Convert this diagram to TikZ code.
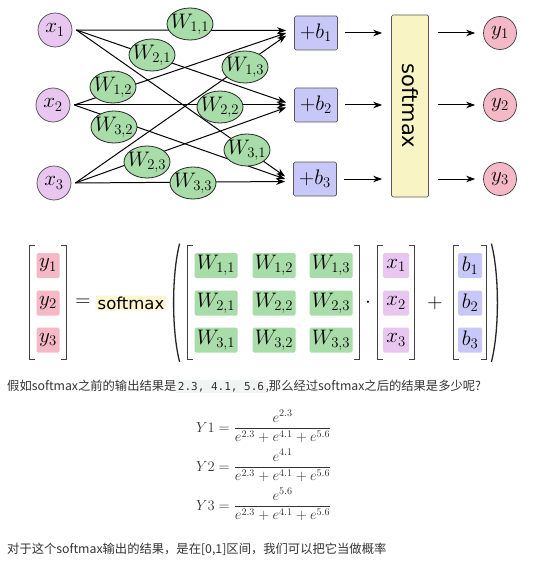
\documentclass[tikz,border=0pt]{standalone}
\usepackage{fix-cm}
\usepackage{amsmath}
\usepackage{fontspec}
\newfontfamily\cjk{Noto Sans CJK SC}
\newfontfamily\dejavu{DejaVu Sans}
\setmonofont{DejaVu Sans Mono}
\usepackage{tikz}
\usetikzlibrary{arrows.meta,calc,fit,shapes.geometric,positioning}
\definecolor{xin}{HTML}{E8C6F0}
\definecolor{win}{HTML}{A8DCA8}
\definecolor{bin}{HTML}{C8C8F8}
\definecolor{smin}{HTML}{F8F4C4}
\definecolor{yin}{HTML}{F4B8C6}
\definecolor{smhl}{HTML}{FFF6CF}
\definecolor{codebg}{HTML}{F2F3F3}
\definecolor{txt}{HTML}{333333}
\newcommand{\mfont}{\fontsize{21}{25}\selectfont}
\newcommand{\code}[1]{{\setlength{\fboxsep}{1.5pt}\colorbox{codebg}{\ttfamily\fontsize{11}{13}\selectfont #1}}}
\newcommand{\sqbrk}[1]{%
\draw[brk] ([xshift=5pt]#1.north west) -- (#1.north west) -- (#1.south west) -- ([xshift=5pt]#1.south west);
\draw[brk] ([xshift=-5pt]#1.north east) -- (#1.north east) -- (#1.south east) -- ([xshift=-5pt]#1.south east);}

\begin{document}
\begin{tikzpicture}[x=1pt,y=-1pt,
  inp/.style={circle,draw=black!70,line width=0.7pt,fill=xin,minimum size=34pt,inner sep=0pt,font=\mfont},
  outp/.style={circle,draw=black!75,line width=0.7pt,fill=yin,minimum size=33pt,inner sep=0pt,font=\mfont},
  wt/.style={ellipse,draw=black!85,line width=0.8pt,fill=win,minimum width=46pt,minimum height=32pt,inner xsep=-3pt,inner ysep=1pt,font=\mfont},
  bias/.style={rectangle,rounded corners=1.5pt,draw=black!65,line width=0.7pt,fill=bin,minimum width=43pt,minimum height=34pt,font=\mfont},
  smbox/.style={rectangle,rounded corners=1.5pt,draw=black!65,line width=0.7pt,fill=smin,minimum width=37pt,minimum height=182pt},
  arr/.style={-{Stealth[length=9pt,width=6.5pt]},line width=1pt},
  ent/.style={rectangle,rounded corners=1.5pt,minimum height=25pt,inner sep=0pt,font=\mfont},
  mat/.style={inner xsep=6.5pt,inner ysep=7pt},
  brk/.style={line width=1pt,black!75},
  paren/.style={line width=1.3pt,black!85},
  line/.style={anchor=base west,inner sep=0pt,text=txt,font=\cjk\fontsize{12.3}{15}\selectfont}]
\fill[white] (0,0) rectangle (534,567);
\useasboundingbox (0,0) rectangle (534,567);

\node[inp] (x1) at (55,30) {$x_1$};
\node[inp] (x2) at (53,105) {$x_2$};
\node[inp] (x3) at (54,183) {$x_3$};
\node[bias] (b1) at (316,33) {$+b_1$};
\node[bias] (b2) at (316,105) {$+b_2$};
\node[bias] (b3) at (315,179) {$+b_3$};
\node[smbox] (sm) at (410,106) {};
\node[rotate=-90,font=\dejavu\fontsize{21}{24}\selectfont] (smlabel) at (sm) {softmax};
\node[outp] (y1) at (500,33) {$y_1$};
\node[outp] (y2) at (500,105) {$y_2$};
\node[outp] (y3) at (500,179) {$y_3$};

\foreach \j in {1,2,3} \coordinate (xo\j) at ([xshift=4pt]x\j.east);
\foreach \i in {1,2,3} \coordinate (bi\i) at ([xshift=-8pt]b\i.west);
\foreach \j/\s in {1/2.5,2/0,3/-2.5}
  \foreach \i in {1,2,3}
    \draw[arr] (xo\j) -- ([yshift=\s pt]bi\i);

\foreach \i/\j/\px/\py in {1/1/190/24,2/1/152/55,1/3/245/67,1/2/113/87,2/2/220/107,3/2/114/127,3/1/247/150,2/3/147/162,3/3/193/183}
  \node[wt] (w\i\j) at (\px,\py) {$W_{\i,\j}$};

\foreach \i in {1,2,3} {
  \draw[arr,shorten <=7pt,shorten >=9pt] (b\i.east) -- (b\i.east -| sm.west);
  \draw[arr,shorten <=9pt,shorten >=8pt] (sm.east |- y\i) -- (y\i.west);
}

\foreach \r/\yy in {1/265.5,2/303,3/340} {
  \node[ent,fill=yin,minimum width=23pt] (ye\r) at (48,\yy) {$y_\r$};
  \node[ent,fill=xin,minimum width=26pt] (xe\r) at (396,\yy) {$x_\r$};
  \node[ent,fill=bin,minimum width=24pt] (be\r) at (470,\yy) {$b_\r$};
  \foreach \c/\xx in {1/216,2/274,3/331}
    \node[ent,fill=win,minimum width=43pt] (we\r\c) at (\xx,\yy) {$W_{\r,\c}$};
}
\node[mat,fit=(ye1)(ye3)] (ymat) {};
\node[mat,fit=(we11)(we33)] (wmat) {};
\node[mat,inner xsep=5pt,fit=(xe1)(xe3)] (xmat) {};
\node[mat,inner xsep=4pt,fit=(be1)(be3)] (bmat) {};
\sqbrk{ymat}
\sqbrk{wmat}
\sqbrk{xmat}
\sqbrk{bmat}
\draw[paren] ([shift={(-8pt,2pt)}]wmat.north west) .. controls +(-8pt,-31pt) and +(-8pt,31pt) .. ([shift={(-8pt,-2pt)}]wmat.south west);
\draw[paren] ([shift={(5pt,2pt)}]bmat.north east) .. controls +(8pt,-31pt) and +(8pt,31pt) .. ([shift={(5pt,-2pt)}]bmat.south east);
\node[font=\mfont] (eq) at (83,303) {$=$};
\node[fill=smhl,rounded corners=1pt,inner xsep=2pt,inner ysep=1pt,font=\dejavu\fontsize{16.5}{18}\selectfont] (smf) at (131,303) {softmax};
\node[font=\mfont] (dot) at (368,303) {$\cdot$};
\node[font=\mfont] (plus) at (435,303) {$+$};

\node[line] (ask) at (7,390) {假如softmax之前的输出结果是\code{2.3, 4.1, 5.6},那么经过softmax之后的结果是多少呢?};
\foreach \k/\e/\yy in {1/2.3/432,2/4.1/471,3/5.6/510}
  \node[anchor=base west,inner sep=0pt,text=txt,font=\fontsize{14.5}{17}\selectfont] (f\k) at (196,\yy) {$Y\k = \dfrac{e^{\e}}{e^{2.3}+e^{4.1}+e^{5.6}}$};
\node[line] (note) at (7,553) {对于这个softmax输出的结果，是在[0,1]区间，我们可以把它当做概率};
\end{tikzpicture}
\end{document}
